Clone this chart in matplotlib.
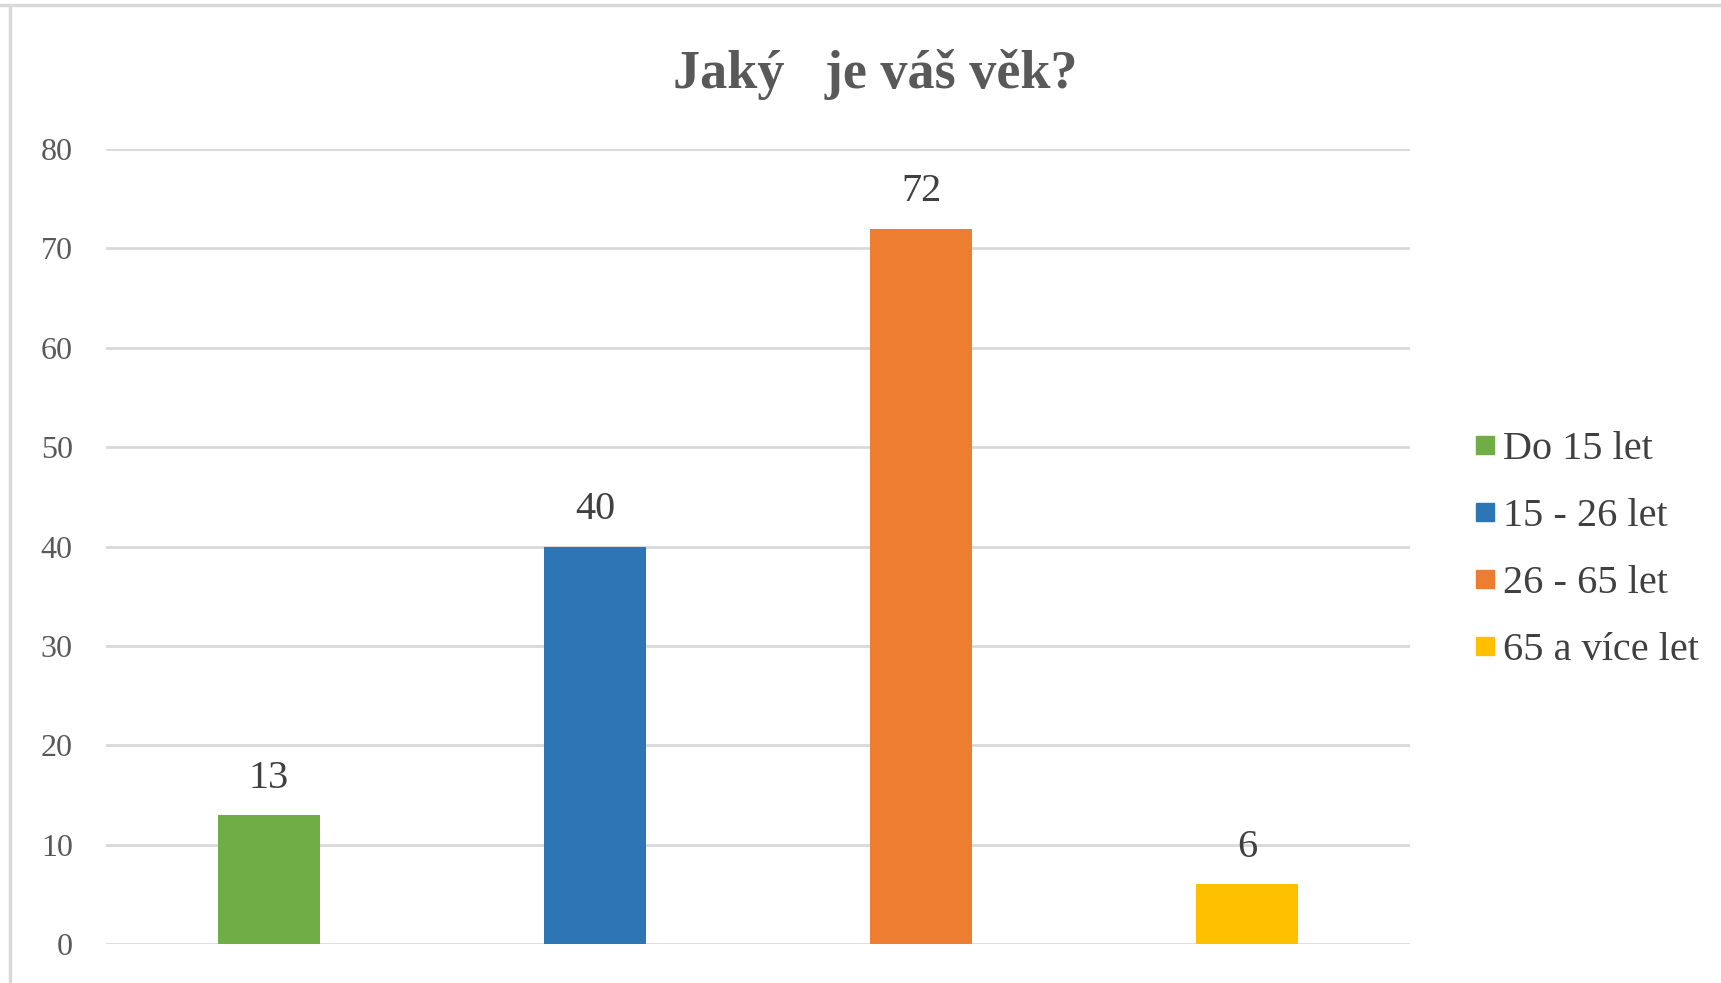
import matplotlib
matplotlib.use("Agg")
import matplotlib.pyplot as plt
from matplotlib.lines import Line2D

categories = ["Do 15 let", "15 - 26 let", "26 - 65 let", "65 a více let"]
values = [13, 40, 72, 6]
colors = ["#70AD47", "#2E75B6", "#ED7D31", "#FFC000"]
yticks = [0, 10, 20, 30, 40, 50, 60, 70, 80]
title = "Jaký   je váš věk?"

plt.rcParams['font.family'] = ['Liberation Serif', 'DejaVu Serif']

W, H = 1721, 983
fig = plt.figure(figsize=(W / 100, H / 100), dpi=100)
fig.patch.set_facecolor("white")

# outer frame lines (top and left)
fig.add_artist(Line2D([0, 1], [1 - 5 / H, 1 - 5 / H], color="#d9d9d9", lw=2.5, transform=fig.transFigure))
fig.add_artist(Line2D([10 / W, 10 / W], [0, 1 - 5 / H], color="#d9d9d9", lw=2.5, transform=fig.transFigure))

left, right, bottom, top = 106, 1410, 944, 149
ax = fig.add_axes([left / W, 1 - bottom / H, (right - left) / W, (bottom - top) / H])

x = list(range(len(categories)))
bars = ax.bar(x, values, width=0.31, color=colors, zorder=3)
ax.set_xlim(-0.5, len(categories) - 0.5)
ax.set_ylim(0, 80)
ax.set_yticks(yticks)
ax.set_yticklabels([str(t) for t in yticks], fontsize=23, color="#595959")
ax.set_xticks([])
ax.tick_params(axis="y", length=0, pad=24)
ax.grid(axis="y", color="#d9d9d9", lw=2, zorder=0)
for s in ax.spines.values():
    s.set_visible(False)

for xi, v in zip(x, values):
    ax.annotate(str(v), (xi, v), xytext=(0, 13), textcoords="offset points",
                ha="center", va="bottom", fontsize=29, color="#404040")

fig.text(875 / W, 1 - 74 / H, title, ha="center", va="center", fontsize=39,
         fontweight="bold", color="#595959")

handles = [Line2D([], [], marker="s", linestyle="none", markersize=13,
                  markerfacecolor=c, markeredgecolor=c) for c in colors]
leg = fig.legend(handles, categories, loc="center left",
                 bbox_to_anchor=(1457 / W, 1 - 550 / H), frameon=False,
                 fontsize=29, labelcolor="#404040", handlelength=0.6,
                 handletextpad=0.15, labelspacing=0.74, borderaxespad=0)

fig.savefig("out.png", dpi=100, facecolor="white")
